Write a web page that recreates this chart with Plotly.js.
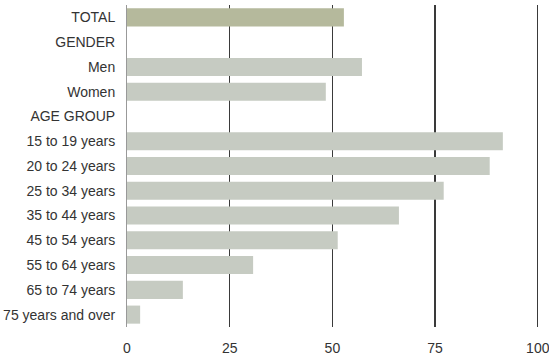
<!DOCTYPE html>
<html>
<head>
<meta charset="utf-8">
<script src="https://cdn.plot.ly/plotly-3.0.1.min.js"></script>
<style>html,body{margin:0;padding:0;background:#fff;}#chart{width:549px;height:359px;}</style>
</head>
<body>
<div id="chart"></div>
<script>
const categories = ["TOTAL","GENDER","Men","Women","AGE GROUP","15 to 19 years","20 to 24 years","25 to 34 years","35 to 44 years","45 to 54 years","55 to 64 years","65 to 74 years","75 years and over"];
const values = [52.8, null, 57.2, 48.4, null, 91.5, 88.3, 77.1, 66.2, 51.3, 30.7, 13.6, 3.2];
const xTicks = [0, 25, 50, 75, 100];

const colors = categories.map(c => c === "TOTAL" ? "#b5b99c" : "#c6cbc2");

const trace = {
  type: "bar",
  orientation: "h",
  y: categories,
  x: values,
  marker: {color: colors, line: {width: 0}},
  hoverinfo: "skip"
};

const layout = {
  width: 549, height: 359,
  margin: {l: 127, r: 10, t: 5, b: 32},
  paper_bgcolor: "#fff", plot_bgcolor: "#fff",
  showlegend: false,
  bargap: 0.27,
  font: {family: "'Liberation Sans', Arial, sans-serif", size: 14, color: "#333"},
  xaxis: {
    range: [0, 100.3],
    tickvals: xTicks,
    ticktext: xTicks.map(String),
    showgrid: true, gridcolor: "#3a3a3a", gridwidth: 1.2,
    zeroline: false, showline: false,
    ticks: "outside", ticklen: 8, tickcolor: "rgba(0,0,0,0)",
    ticklabeloverflow: "allow",
    fixedrange: true
  },
  yaxis: {
    type: "category",
    autorange: "reversed",
    showgrid: false, zeroline: false,
    showline: true, linecolor: "#999", linewidth: 1,
    ticks: "", ticklabelstandoff: 8,
    fixedrange: true
  }
};

Plotly.newPlot("chart", [trace], layout, {staticPlot: true, displayModeBar: false});
</script>
</body>
</html>
